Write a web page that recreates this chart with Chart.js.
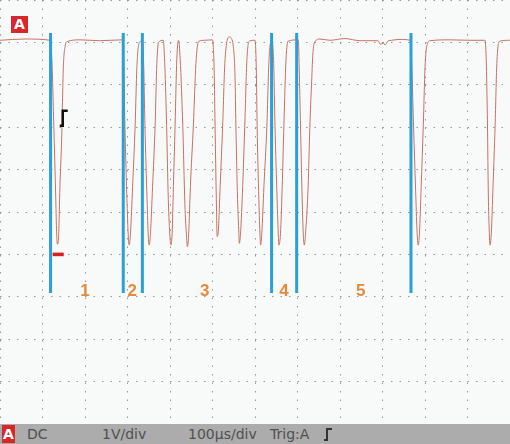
<!DOCTYPE html>
<html>
<head>
<meta charset="utf-8">
<script src="https://cdn.jsdelivr.net/npm/chart.js@4.4.0/dist/chart.umd.min.js"></script>
<style>
  body { margin: 0; background: #f7faf9; width: 510px; height: 444px; overflow: hidden; font-family: "DejaVu Sans", sans-serif; }
  #wrap { position: relative; width: 510px; height: 424px; }
  #badge { position: absolute; left: 11px; top: 16px; width: 17px; height: 17px; background: #d8262a; color: #fff;
           font: bold 14px "DejaVu Sans", sans-serif; text-align: center; line-height: 17px; }
  #bar { position: relative; height: 20px; background: #acacac; color: #505050; font-size: 14px; }
  #bar span { position: absolute; top: 1px; line-height: 18px; }
  #bar .chan { left: 2px; top: 1px; width: 13px; height: 18px; background: #d8262a; color: #fff; font-weight: bold; text-align: center; }
</style>
</head>
<body>
<div id="wrap">
  <canvas id="scope" width="510" height="424"></canvas>
  <div id="badge">A</div>
</div>
<div id="bar">
  <span class="chan">A</span>
  <span style="left:27px">DC</span>
  <span style="left:102px">1V/div</span>
  <span style="left:188px">100µs/div</span>
  <span style="left:270px">Trig:A</span>
  <span style="left:324px;top:3px"><svg width="9" height="15"><polyline points="0,13 3,13 3,2 8,2" fill="none" stroke="#333" stroke-width="2"/></svg></span>
</div>

<script>
// channel A trace, time in µs, level in volts (1V/div, 100µs/div)
var traceTimes = [0, 59, 118, 122, 127, 131, 133, 135, 138, 141, 145, 149, 153, 158, 188, 235, 287,
  291, 294, 299, 302, 304, 307, 312, 318, 322, 328, 333,
  338, 341, 346, 349, 351, 354, 359, 365, 369, 373, 384,
  388, 392, 396, 400, 402, 405, 408, 412, 416, 420,
  424, 430, 435, 439, 441, 444, 448, 455, 461, 467, 482, 500,
  504, 506, 509, 511, 514, 518, 524, 529, 540, 544, 549,
  553, 555, 559, 562, 563, 566, 571, 576, 581, 587, 600,
  603, 605, 609, 612, 613, 616, 621, 628, 633, 639,
  644, 647, 652, 655, 656, 660, 664, 668, 673, 678, 702,
  704, 707, 711, 714, 716, 719, 725, 729, 733, 736, 741, 753, 776, 812, 847,
  889, 896, 901, 906, 913, 922, 941, 965,
  968, 973, 978, 981, 984, 987, 991, 996, 1000, 1005, 1012, 1059, 1106, 1141,
  1144, 1147, 1149, 1151, 1153, 1156, 1160, 1165, 1169, 1176, 1200];
var traceVolts = [5.05, 5.08, 5.05, 4.6, 2.9, 1.4, 0.6, 0.24, 0.45, 1.6, 2.7, 4.4, 4.9, 5.02, 5.06, 5.04, 5.06,
  4.5, 3.0, 1.2, 0.4, 0.22, 0.5, 1.6, 3.05, 4.4, 5.0, 5.03,
  4.5, 3.05, 1.3, 0.4, 0.22, 0.5, 1.6, 3.05, 4.5, 5.0, 5.05,
  4.4, 3.05, 1.3, 0.4, 0.22, 0.5, 1.6, 3.05, 4.6, 5.05,
  4.6, 3.05, 1.2, 0.4, 0.18, 0.5, 1.6, 3.05, 4.5, 5.02, 5.05, 5.06,
  4.3, 3.05, 1.3, 0.42, 0.6, 1.6, 3.05, 4.5, 5.13, 5.1, 4.9,
  4.2, 3.05, 1.3, 0.5, 0.26, 0.5, 1.6, 3.05, 4.6, 5.03, 5.05,
  4.4, 3.05, 1.3, 0.4, 0.22, 0.5, 1.6, 3.05, 4.6, 5.05,
  4.5, 3.05, 1.3, 0.4, 0.22, 0.5, 1.6, 3.05, 4.6, 5.03, 5.06,
  4.4, 3.05, 1.3, 0.4, 0.22, 0.5, 1.6, 3.0, 4.0, 4.7, 5.02, 5.08, 5.05, 5.09, 5.04,
  5.04, 4.95, 5.0, 4.94, 5.03, 5.05, 5.07, 5.05,
  4.7, 3.05, 1.5, 0.6, 0.22, 0.5, 1.6, 3.05, 4.4, 4.95, 5.04, 5.06, 5.05, 5.05,
  4.6, 3.05, 1.4, 0.6, 0.22, 0.5, 1.6, 3.05, 4.5, 5.03, 5.05];

// measurement cursors and the numbers between them
var cursorTimes = [119, 290, 335, 639, 698, 967];
var cursorTop = 5.22;
var cursorBottom = -0.91;
var segLabels = ['1', '2', '3', '4', '5'];
var segLabelTimes = [200, 311, 482, 668, 849];
var segLabelVolt = -0.86;

// trigger mark and ground mark
var trigTime = 150, trigVolt = 3.22;
var groundTime = 137, groundVolt = 0;

var tracePoints = [];
for (var i = 0; i < traceTimes.length; i++) {
  tracePoints.push({ x: traceTimes[i], y: traceVolts[i] });
}

var datasets = [];
for (var c = 0; c < cursorTimes.length; c++) {
  datasets.push({
    data: [{ x: cursorTimes[c], y: cursorTop }, { x: cursorTimes[c], y: cursorBottom }],
    borderColor: '#2b9fd8',
    borderWidth: 3,
    pointRadius: 0,
    showLine: true,
    order: 0
  });
}
datasets.push({
  data: tracePoints,
  borderColor: 'rgb(200,112,98)',
  borderWidth: 1,
  pointRadius: 0,
  showLine: true,
  cubicInterpolationMode: 'monotone',
  order: 1
});

var marks = {
  id: 'marks',
  afterDatasetsDraw: function(chart) {
    var ctx = chart.ctx;
    var xs = chart.scales.x, ys = chart.scales.y;
    ctx.save();
    // cursor numbers
    ctx.fillStyle = '#e8893a';
    ctx.font = 'bold 17px "Liberation Sans", sans-serif';
    ctx.textAlign = 'center';
    ctx.textBaseline = 'middle';
    for (var k = 0; k < segLabels.length; k++) {
      ctx.fillText(segLabels[k], xs.getPixelForValue(segLabelTimes[k]), ys.getPixelForValue(segLabelVolt));
    }
    // ground level marker
    var gx = xs.getPixelForValue(groundTime), gy = ys.getPixelForValue(groundVolt);
    ctx.fillStyle = '#d42020';
    ctx.fillRect(gx - 5.5, gy - 1.8, 11, 3.6);
    // trigger symbol
    var tx = xs.getPixelForValue(trigTime), ty = ys.getPixelForValue(trigVolt);
    ctx.strokeStyle = '#111';
    ctx.lineWidth = 2.5;
    ctx.beginPath();
    ctx.moveTo(tx - 4, ty + 8);
    ctx.lineTo(tx - 1, ty + 8);
    ctx.lineTo(tx - 1, ty - 7);
    ctx.lineTo(tx + 4, ty - 7);
    ctx.stroke();
    ctx.restore();
  }
};

new Chart(document.getElementById('scope'), {
  type: 'scatter',
  data: { datasets: datasets },
  options: {
    responsive: false,
    animation: false,
    layout: { padding: 0 },
    plugins: { legend: { display: false }, tooltip: { enabled: false } },
    scales: {
      x: {
        type: 'linear', min: 0, max: 1200,
        ticks: { display: false, stepSize: 100 },
        grid: { color: '#8c9c9c', lineWidth: 1, drawTicks: false },
        border: { display: false, dash: [1.5, 7] }
      },
      y: {
        type: 'linear', min: -4, max: 6,
        ticks: { display: false, stepSize: 1 },
        grid: { color: '#8c9c9c', lineWidth: 1, drawTicks: false },
        border: { display: false, dash: [1.5, 7] }
      }
    }
  },
  plugins: [marks]
});
</script>
</body>
</html>
